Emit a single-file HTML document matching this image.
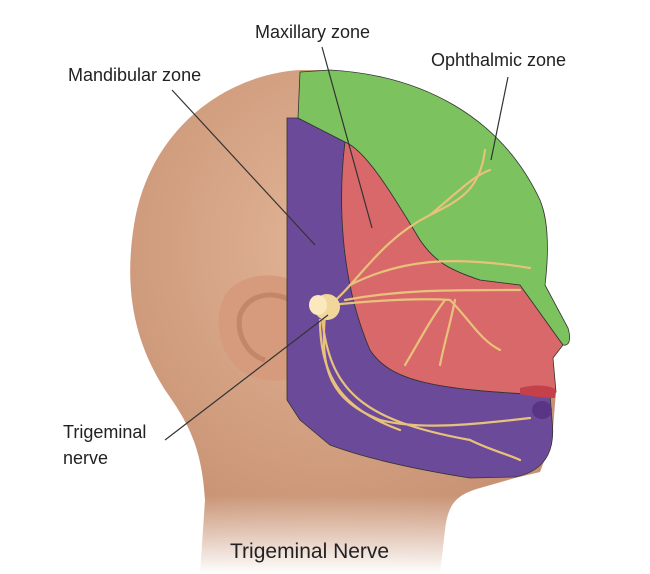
<!DOCTYPE html>
<html><head><meta charset="utf-8"><style>
body{margin:0;background:#fff;}
svg{display:block}
text{font-family:"Liberation Sans",sans-serif;fill:#222}
</style></head><body>
<svg width="650" height="574" viewBox="0 0 650 574">
<defs>
<linearGradient id="fade" x1="0" y1="0" x2="0" y2="1">
<stop offset="0" stop-color="#fff" stop-opacity="0"/>
<stop offset="1" stop-color="#fff" stop-opacity="1"/>
</linearGradient>
<radialGradient id="skin" cx="0.45" cy="0.35" r="0.7">
<stop offset="0" stop-color="#e2b496"/>
<stop offset="1" stop-color="#c48d6e"/>
</radialGradient>
</defs>
<!-- head & neck -->
<path d="M300,70 C230,74 150,125 134,225 C122,300 140,350 165,390 C190,425 202,450 205,500 L200,574 L440,574 L445,530 C448,505 455,495 480,488 L515,478 L540,472 L552,440 L556,392 L553,356 L568,340 L545,285 C548,250 550,220 540,200 C500,115 420,75 330,70 Z" fill="url(#skin)"/>
<!-- ear -->
<path d="M300,285 C280,270 240,272 225,295 C212,320 220,355 240,370 C260,385 290,383 305,372 Z" fill="#d59b7c"/>
<path d="M290,300 C270,290 248,295 240,315 C236,335 248,355 265,360" fill="none" stroke="#b87a5c" stroke-width="5" opacity="0.6"/>
<!-- purple -->
<path d="M287,118 L298,118 L345,142 C338,200 340,280 370,350 C390,380 430,390 550,395 L552,420 C555,445 550,470 515,477 L470,478 C420,470 370,460 330,445 L300,420 L287,400 Z" fill="#6b4a9a" stroke="#333" stroke-width="0.8"/>
<ellipse cx="542" cy="410" rx="10" ry="9" fill="#5a3585"/>
<!-- red -->
<path d="M345,142 C365,150 390,190 420,240 C435,262 450,270 480,280 L520,285 L563,345 L553,358 L556,392 L550,395 C430,390 390,380 370,350 C340,280 338,200 345,142 Z" fill="#d9686b" stroke="#333" stroke-width="0.8"/>
<path d="M520,388 C535,384 550,385 556,390 L555,398 C540,398 530,396 520,394 Z" fill="#c4404a"/>
<!-- green -->
<path d="M300,72 L330,70 C420,75 500,115 540,200 C550,225 548,260 545,285 L568,328 C572,342 568,346 563,345 L520,285 L480,280 C450,270 435,262 420,240 C390,190 365,150 345,142 L298,118 Z" fill="#7cc25f" stroke="#333" stroke-width="0.8"/>
<!-- nerves -->
<g fill="none" stroke="#e8c27a" stroke-width="2.2" stroke-linecap="round">
<path d="M330,305 C360,280 380,240 430,215 C460,200 480,190 485,150"/>
<path d="M430,215 C460,190 475,175 490,170"/>
<path d="M350,285 C400,260 450,255 530,268"/>
<path d="M345,300 C400,290 440,290 520,290"/>
<path d="M330,305 C380,300 420,298 450,300 C470,320 480,340 500,350"/>
<path d="M445,300 C430,320 420,340 405,365"/>
<path d="M455,300 C450,325 445,340 440,365"/>
<path d="M325,315 C320,370 330,400 380,420 C420,430 470,425 530,418"/>
<path d="M322,318 C330,390 360,420 470,440 C490,450 510,455 520,460"/>
<path d="M320,320 C320,380 345,410 400,430"/>
</g>
<circle cx="327" cy="307" r="13" fill="#f2d79a"/>
<ellipse cx="318" cy="305" rx="9" ry="10" fill="#fbe8bd"/>
<!-- neck fade -->
<rect x="0" y="495" width="650" height="79" fill="url(#fade)"/>
<!-- leader lines -->
<g stroke="#333" stroke-width="1.2">
<line x1="322" y1="47" x2="372" y2="228"/>
<line x1="172" y1="90" x2="315" y2="245"/>
<line x1="508" y1="77" x2="491" y2="160"/>
<line x1="165" y1="440" x2="328" y2="315"/>
</g>
<text x="255" y="38" font-size="18">Maxillary zone</text>
<text x="68" y="81" font-size="18">Mandibular zone</text>
<text x="431" y="66" font-size="18">Ophthalmic zone</text>
<text x="63" y="438" font-size="18">Trigeminal</text>
<text x="63" y="464" font-size="18">nerve</text>
<text x="230" y="558" font-size="21">Trigeminal Nerve</text>
</svg>
</body></html>
